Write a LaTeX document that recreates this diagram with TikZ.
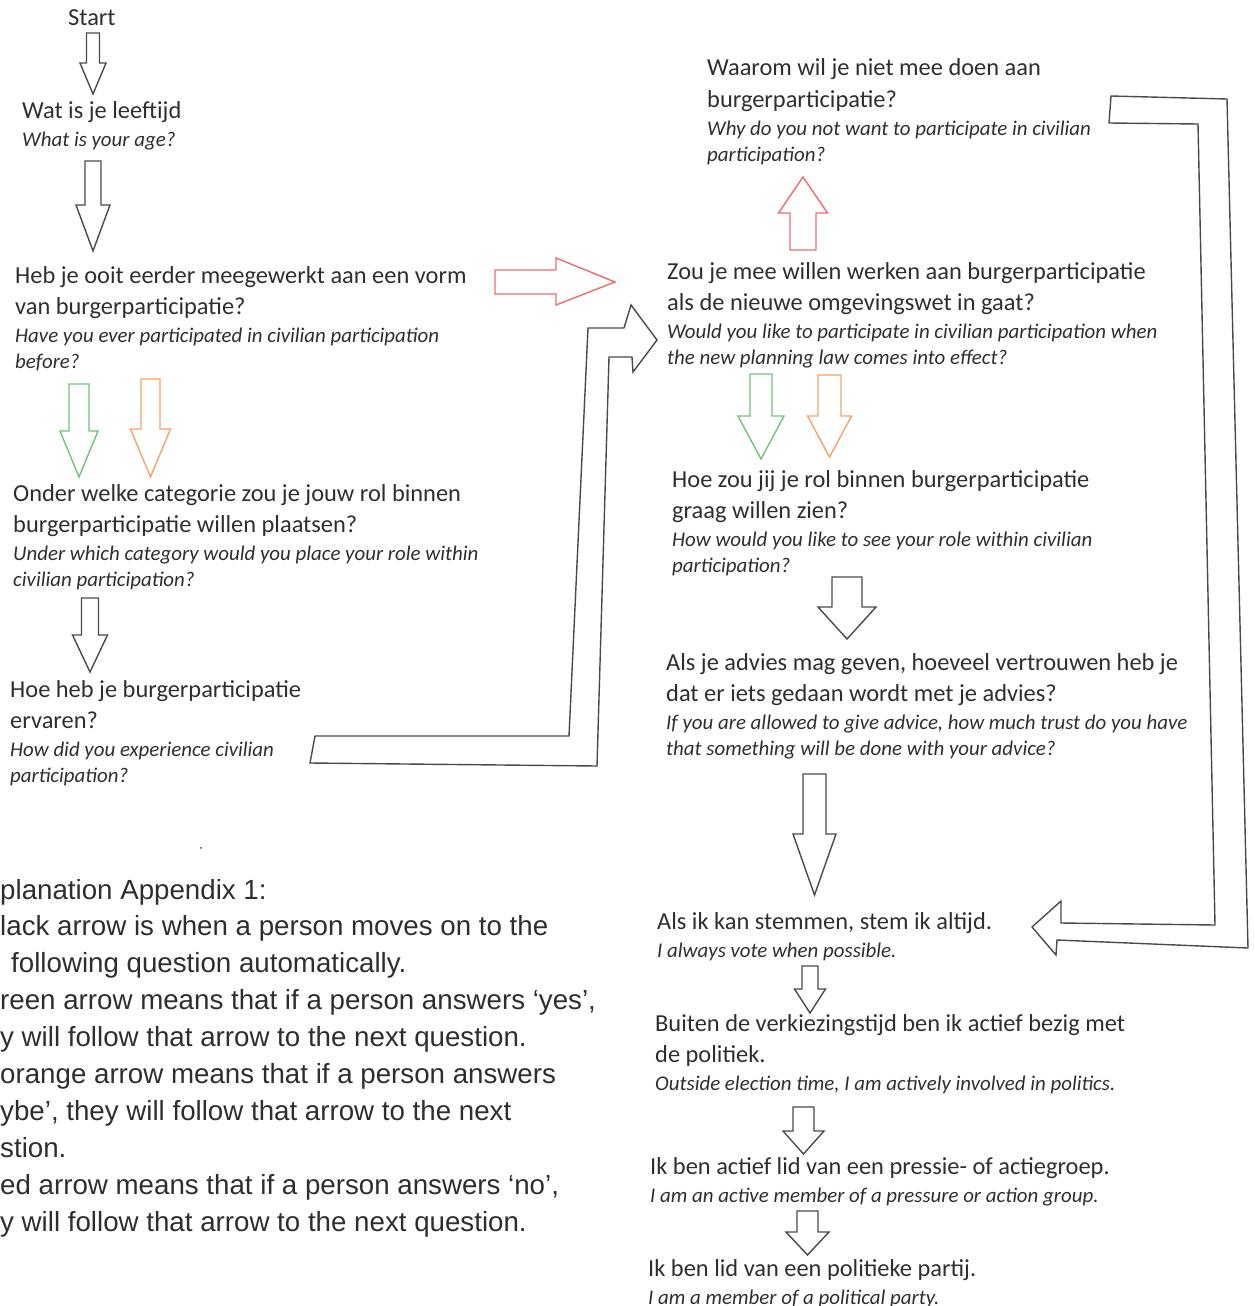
\documentclass[tikz,border=0pt]{standalone}
\usepackage{fontspec}
\setmainfont{Carlito}
\newfontfamily\notefont{Liberation Sans}
\usepackage{xcolor}
\usepackage{tikz}
\definecolor{ink}{HTML}{2E2E2E}
\definecolor{shade}{HTML}{4A4A4A}
\definecolor{yesarrow}{HTML}{6CC47C}
\definecolor{maybearrow}{HTML}{F5A26B}
\definecolor{noarrow}{HTML}{EE6B70}
\newcommand\blockdown[7]{%
  \draw[blk,draw=#1] ({#2-#6},#3) -- ({#2+#6},#3) -- ({#2+#6},#4) -- ({#2+#7},#4)
    -- (#2,#5) -- ({#2-#7},#4) -- ({#2-#6},#4) -- cycle;}
\newcommand\qblock[6]{%
  \foreach \row [count=\k from 0] in {#5}
    \node[nl] (#1-\k) at (#2,{#3+31*\k}) {\row};
  \foreach \row [count=\k from 0] in {#6}
    \node[en] (#1-en\k) at (#2,{#3+31*#4-3+26*\k}) {\row};}
\begin{document}
\begin{tikzpicture}[x=1pt,y=-1pt,
  nl/.style={anchor=base west,inner sep=0pt,text=ink,font=\fontsize{24.4}{31}\selectfont},
  en/.style={anchor=base west,inner sep=0pt,text=ink,font=\fontsize{20.9}{26}\selectfont\itshape},
  note/.style={anchor=base west,inner sep=0pt,text=ink,font=\notefont\fontsize{27.7}{37}\selectfont},
  blk/.style={draw=shade,line width=1.4pt,line join=miter}]
\useasboundingbox (0,0) rectangle (1254,1306);
\node[nl] (start) at (68,26) {Start};
\qblock{age}{22}{118}{1}{Wat is je leeftijd}{What is your age?}
\qblock{before}{15}{283}{2}{Heb je ooit eerder meegewerkt aan een vorm, van burgerparticipatie?}{Have you ever participated in civilian participation, before?}
\qblock{category}{13}{501}{2}{Onder welke categorie zou je jouw rol binnen, burgerparticipatie willen plaatsen?}{Under which category would you place your role within, civilian participation?}
\qblock{experience}{10}{697}{2}{Hoe heb je burgerparticipatie, ervaren?}{How did you experience civilian, participation?}
\qblock{why}{707}{76}{2}{Waarom wil je niet mee doen aan, burgerparticipatie?}{Why do you not want to participate in civilian, participation?}
\qblock{future}{667}{279}{2}{Zou je mee willen werken aan burgerparticipatie, als de nieuwe omgevingswet in gaat?}{Would you like to participate in civilian participation when, the new planning law comes into effect?}
\qblock{role}{672}{487}{2}{Hoe zou jij je rol binnen burgerparticipatie, graag willen zien?}{How would you like to see your role within civilian, participation?}
\qblock{trust}{666}{670}{2}{{Als je advies mag geven, hoeveel vertrouwen heb je}, dat er iets gedaan wordt met je advies?}{{If you are allowed to give advice, how much trust do you have}, that something will be done with your advice?}
\qblock{vote}{657}{929}{1}{{Als ik kan stemmen, stem ik altijd.}}{I always vote when possible.}
\qblock{active}{655}{1031}{2}{Buiten de verkiezingstijd ben ik actief bezig met, de politiek.}{{Outside election time, I am actively involved in politics.}}
\qblock{group}{650}{1174}{1}{Ik ben actief lid van een pressie- of actiegroep.}{I am an active member of a pressure or action group.}
\qblock{party}{648}{1276}{1}{Ik ben lid van een politieke partij.}{I am a member of a political party.}
\foreach \dx/\row [count=\k from 0] in {0/planation Appendix 1:,
  0/lack arrow is when a person moves on to the, 11/following question automatically.,
  0/{reen arrow means that if a person answers ‘yes’,}, 0/y will follow that arrow to the next question.,
  0/orange arrow means that if a person answers, 0/{ybe’, they will follow that arrow to the next},
  0/stion., 0/{ed arrow means that if a person answers ‘no’,}, 0/y will follow that arrow to the next question.}
  \node[note] (note\k) at (\dx,{899+36.9*\k}) {\row};
\blockdown{shade}{93}{33}{63}{94}{6.5}{13}
\blockdown{shade}{93}{161}{205}{251}{8}{17}
\blockdown{yesarrow}{79}{384}{431}{477}{10}{19}
\blockdown{maybearrow}{150.5}{379}{429}{477}{9.5}{20}
\blockdown{shade}{90}{598}{635}{672}{8.5}{17.5}
\blockdown{noarrow}{803}{250}{213}{177}{13}{24.5}
\blockdown{yesarrow}{761}{374}{416}{459}{11}{23}
\blockdown{maybearrow}{829.5}{375}{416}{457}{11.5}{22}
\blockdown{shade}{847}{577}{607}{639}{15}{29}
\blockdown{shade}{814.5}{774}{834}{895}{11.5}{21.5}
\blockdown{shade}{810}{966}{989}{1013}{8}{15.5}
\blockdown{shade}{803.5}{1107}{1131}{1154}{10.5}{20.5}
\blockdown{shade}{807.5}{1211}{1232}{1255}{10.5}{21.5}
\draw[blk,draw=noarrow] (495,270) -- (556,270) -- (556,258) -- (615,282) -- (556,305) -- (556,294) -- (495,294) -- cycle;
\draw[blk] (310,763) -- (315,736) -- (569,736) -- (588,328) -- (624,328) -- (631,305) -- (657,340)
  -- (633,372) -- (632,357) -- (609,357) -- (597,766) -- cycle;
\draw[blk] (1111,96) -- (1227,99) -- (1248,948) -- (1057,940) -- (1056,955) -- (1032,927) -- (1061,901)
  -- (1061,923) -- (1215,925) -- (1198,124) -- (1109,123) -- cycle;
\fill[shade] (201,848) circle (1);
\end{tikzpicture}
\end{document}
